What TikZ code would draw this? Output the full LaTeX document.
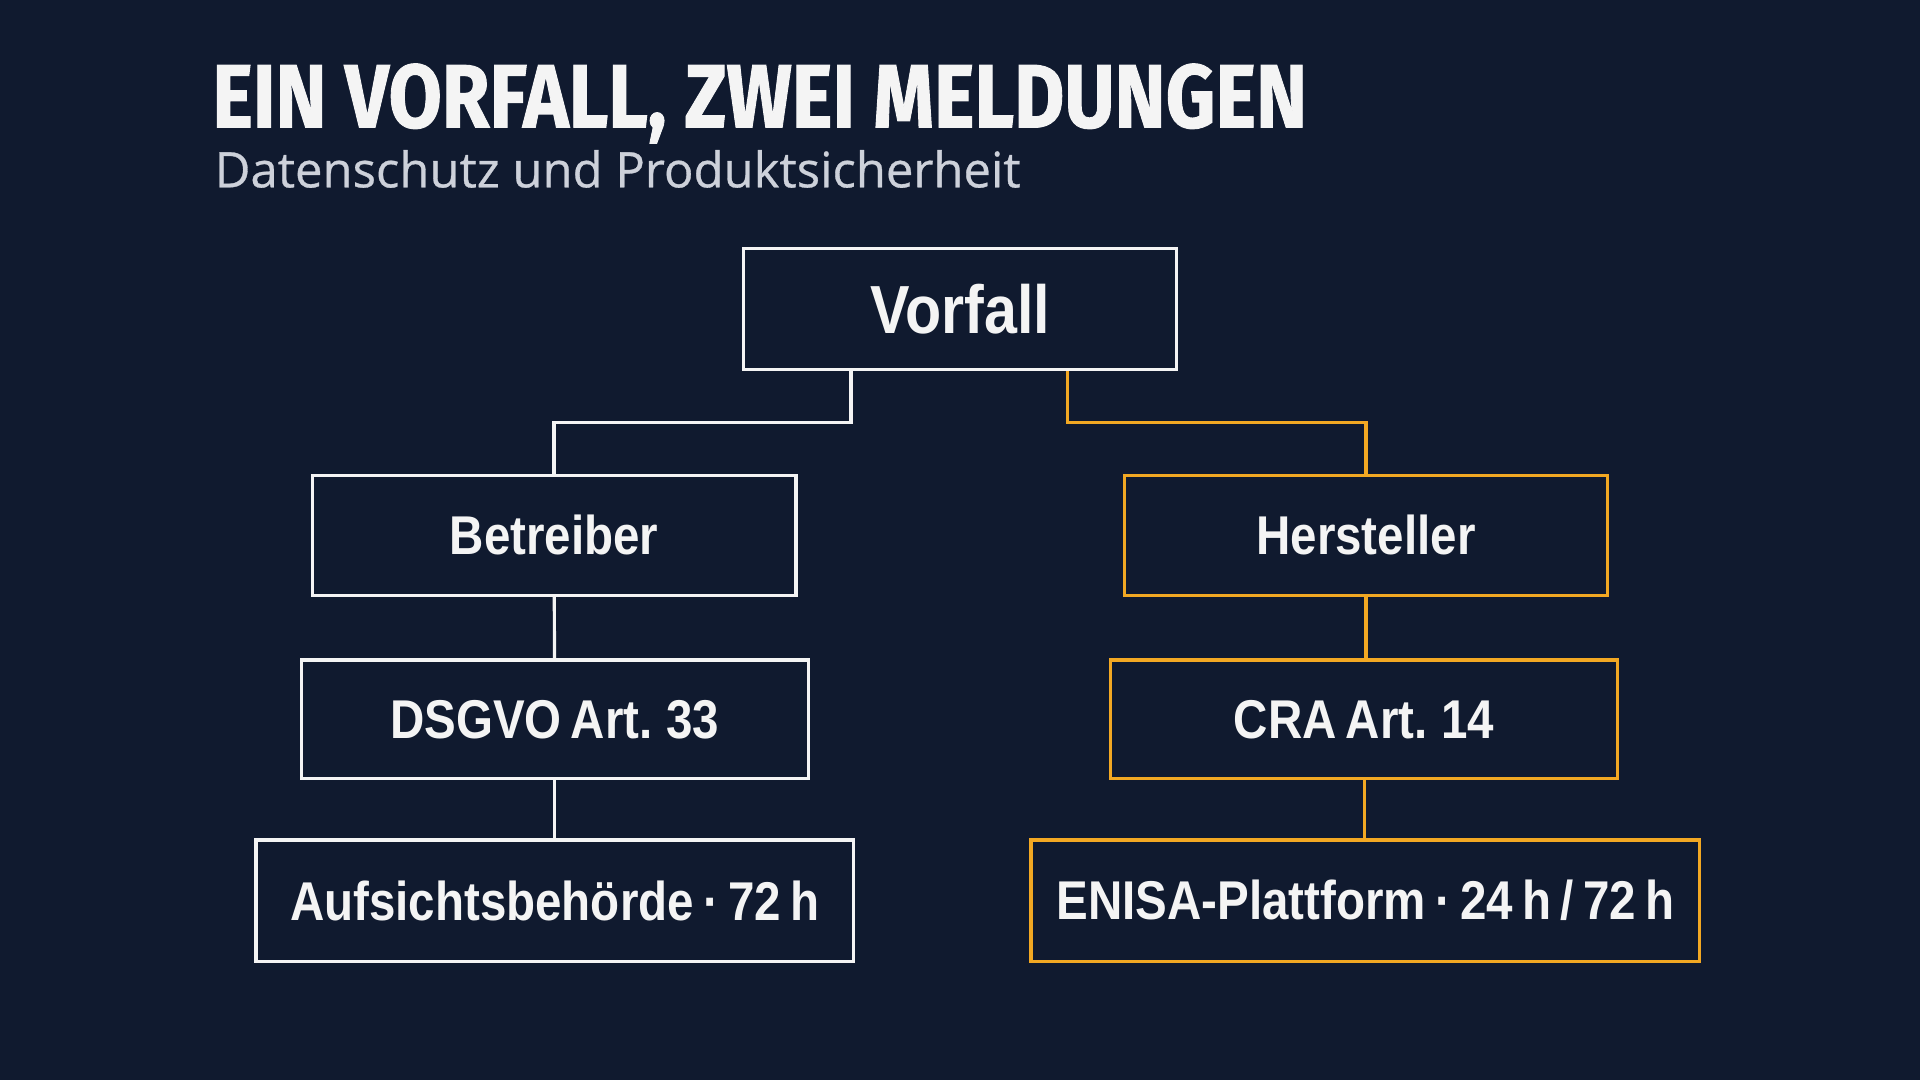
\documentclass[tikz,border=0pt]{standalone}
\usepackage{fontspec}
\setmainfont{Liberation Sans}
\newfontfamily\titlefont{Fira Sans}[BoldFeatures={FakeBold=1.2}]
\newfontfamily\subfont{Open Sans}[FakeBold=0.6]
\newfontfamily\labfont{Liberation Sans}[FakeStretch=0.87,WordSpace=0.7]
\definecolor{bg}{HTML}{101A2F}
\definecolor{orng}{HTML}{F2A823}
\definecolor{wht}{HTML}{F4F4F4}
\definecolor{subgray}{HTML}{CDD1DA}
\tikzset{
  box/.style={draw=wht, line width=1.3pt, fill=bg, text=wht, inner sep=0pt,
    font=\labfont\bfseries\fontsize{22.3pt}{24pt}\selectfont},
  obox/.style={box, draw=orng},
  wline/.style={draw=wht, line width=1.3pt},
  oline/.style={draw=orng, line width=1.3pt},
}
\begin{document}
\begin{tikzpicture}[x=0.5pt,y=-0.5pt]
\fill[bg] (0,0) rectangle (1568,882);
\useasboundingbox (0,0) rectangle (1568,882);
% title
\node[anchor=base west, inner sep=0pt, text=wht] (title) at (173,104)
  {\resizebox{447pt}{26pt}{\titlefont\bfseries EIN VORFALL, ZWEI MELDUNGEN}};
\node[anchor=base west, inner sep=0pt, text=subgray] (subtitle) at (175,153)
  {\resizebox{329pt}{!}{\subfont Datenschutz und Produktsicherheit}};
% boxes
\node[box, minimum width=177pt, minimum height=49.5pt,
  font=\labfont\bfseries\fontsize{27.8pt}{29pt}\selectfont] (vorfall) at (784,252.5) {Vorfall};
\node[box, minimum width=197.5pt, minimum height=49pt] (betreiber) at (452.5,437) {Betreiber};
\node[obox, minimum width=197.5pt, minimum height=49pt] (hersteller) at (1115.5,437) {Hersteller};
\node[box, minimum width=207pt, minimum height=48.5pt] (dsgvo) at (453,587.5) {DSGVO Art. 33};
\node[obox, minimum width=207pt, minimum height=48.5pt] (cra) at (1114,587.5) {CRA Art. 14};
\node[box, minimum width=244pt, minimum height=49.5pt] (aufsicht) at (453,735.5) {Aufsichtsbehörde · 72 h};
\node[obox, minimum width=273pt, minimum height=49.5pt] (enisa) at (1115,735.5) {ENISA-Plattform · 24 h / 72 h};
% connectors
\coordinate (jl) at (695,345);
\coordinate (jr) at (872,345);
\draw[wline] (vorfall.south -| jl) -- (jl) -| (betreiber.north);
\draw[oline] (vorfall.south -| jr) -- (jr) -| (hersteller.north);
\draw[wline] (betreiber) -- (dsgvo);
\draw[wline] (dsgvo) -- (aufsicht);
\draw[oline] (hersteller.south) -- (hersteller.south |- cra.north);
\draw[oline] (cra.south) -- (cra.south |- enisa.north);
\end{tikzpicture}
\end{document}
